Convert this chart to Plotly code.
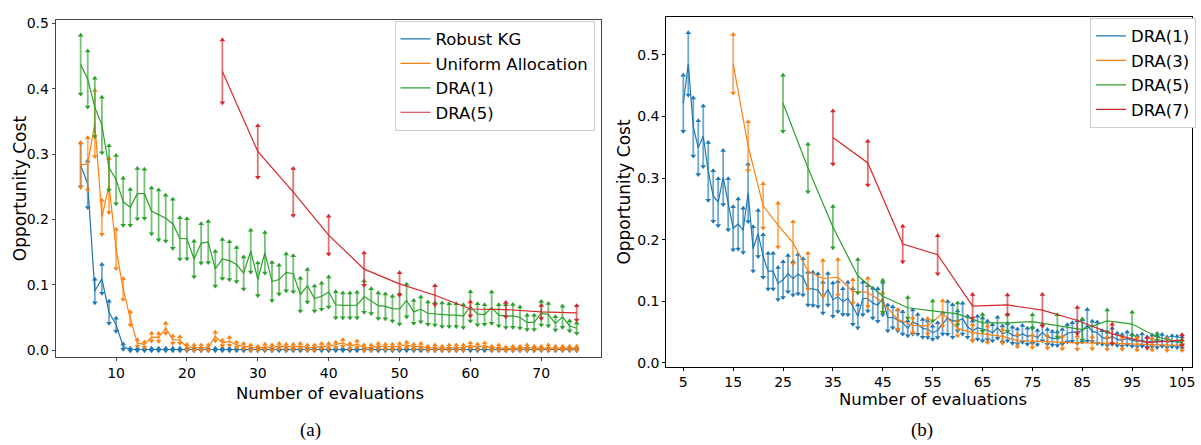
import plotly.graph_objects as go

# ---------------- data: panel (a) ----------------
A_X = list(range(5, 76))
A_DRA5_X = [25, 30, 35, 40, 45, 50, 55, 60, 65, 70, 75]

KG_MEAN = [0.2835, 0.254, 0.0905, 0.109, 0.058, 0.039, 0.0055,
           0.001, 0.001, 0.001, 0.001, 0.001, 0.001, 0.001, 0.001, 0.001, 0.001,
           0.001, 0.001, 0.001, 0.001, 0.001, 0.001, 0.001, 0.001, 0.001, 0.001,
           0.001, 0.001, 0.001, 0.001, 0.001, 0.001, 0.001, 0.001, 0.001, 0.001,
           0.001, 0.001, 0.001, 0.001, 0.001, 0.001, 0.001, 0.001, 0.001, 0.001,
           0.001, 0.001, 0.001, 0.001, 0.001, 0.001, 0.001, 0.001, 0.001, 0.001,
           0.001, 0.001, 0.001, 0.001, 0.001, 0.001, 0.001, 0.001, 0.001, 0.001,
           0.001, 0.001, 0.001, 0.001]
KG_ERR = [0.0335, 0.0355, 0.018, 0.022, 0.017, 0.01, 0.004,
          0.002, 0.002, 0.002, 0.002, 0.002, 0.002, 0.002, 0.002, 0.002, 0.002,
          0.002, 0.002, 0.002, 0.002, 0.002, 0.002, 0.002, 0.002, 0.002, 0.002,
          0.002, 0.002, 0.002, 0.002, 0.002, 0.002, 0.002, 0.002, 0.002, 0.002,
          0.002, 0.002, 0.002, 0.002, 0.002, 0.002, 0.002, 0.002, 0.002, 0.002,
          0.002, 0.002, 0.002, 0.002, 0.002, 0.002, 0.002, 0.002, 0.002, 0.002,
          0.002, 0.002, 0.002, 0.002, 0.002, 0.002, 0.002, 0.002, 0.002, 0.002,
          0.002, 0.002, 0.002, 0.002]

UNI_MEAN = [0.2835, 0.285, 0.347, 0.2035, 0.252, 0.155, 0.0935, 0.0485, 0.011, 0.0085,
            0.02, 0.0195, 0.0335, 0.016, 0.0155, 0.0045, 0.004, 0.004, 0.004, 0.021,
            0.011, 0.0135, 0.008, 0.006, 0.004, 0.003, 0.005, 0.004, 0.006, 0.005,
            0.005, 0.006, 0.004, 0.004, 0.006, 0.006, 0.008, 0.011, 0.006, 0.009,
            0.004, 0.004, 0.006, 0.005, 0.005, 0.006, 0.008, 0.005, 0.006, 0.003,
            0.004, 0.003, 0.004, 0.004, 0.004, 0.007, 0.005, 0.007, 0.003, 0.004,
            0.002, 0.003, 0.003, 0.004, 0.003, 0.003, 0.004, 0.003, 0.003, 0.003, 0.003]
UNI_ERR = [0.034, 0.04, 0.0505, 0.026, 0.0415, 0.03, 0.016, 0.01, 0.005, 0.004,
           0.006, 0.006, 0.0075, 0.0055, 0.005, 0.004, 0.004, 0.004, 0.004, 0.0065,
           0.004, 0.006, 0.004, 0.004, 0.004, 0.003, 0.004, 0.004, 0.004, 0.004,
           0.004, 0.004, 0.004, 0.004, 0.004, 0.004, 0.004, 0.005, 0.004, 0.005,
           0.004, 0.004, 0.004, 0.004, 0.004, 0.004, 0.004, 0.004, 0.004, 0.003,
           0.004, 0.003, 0.004, 0.004, 0.004, 0.004, 0.004, 0.004, 0.003, 0.004,
           0.003, 0.003, 0.003, 0.004, 0.003, 0.003, 0.004, 0.003, 0.003, 0.003, 0.003]

DRA1_MEAN = [0.437, 0.415, 0.3715, 0.3445, 0.279, 0.261, 0.227, 0.2185, 0.2395, 0.2395,
             0.213, 0.207, 0.202, 0.1935, 0.171, 0.1705, 0.1395, 0.1635, 0.1655, 0.1245,
             0.1395, 0.137, 0.131, 0.118, 0.1515, 0.1085, 0.149, 0.105, 0.108, 0.119,
             0.117, 0.085, 0.0985, 0.079, 0.0825, 0.089, 0.0695, 0.0685, 0.0685, 0.069,
             0.082, 0.075, 0.068, 0.067, 0.0635, 0.063, 0.076, 0.0585, 0.0625, 0.0565,
             0.0555, 0.054, 0.0535, 0.0535, 0.052, 0.067, 0.055, 0.0545, 0.065, 0.0535,
             0.052, 0.0525, 0.05, 0.0425, 0.0425, 0.0565, 0.0545, 0.041, 0.051, 0.037, 0.0335]
DRA1_ERR = [0.045, 0.043, 0.0445, 0.0425, 0.034, 0.037, 0.036, 0.0275, 0.0385, 0.0375,
            0.035, 0.038, 0.035, 0.0375, 0.0315, 0.0305, 0.027, 0.03, 0.0315, 0.0265,
            0.03, 0.029, 0.026, 0.0245, 0.032, 0.025, 0.031, 0.029, 0.022, 0.028,
            0.0275, 0.025, 0.025, 0.019, 0.02, 0.023, 0.02, 0.019, 0.019, 0.0195,
            0.024, 0.019, 0.0195, 0.019, 0.019, 0.023, 0.025, 0.0175, 0.019, 0.017,
            0.017, 0.018, 0.0175, 0.0175, 0.0175, 0.0225, 0.016, 0.015, 0.024, 0.016,
            0.0175, 0.0175, 0.016, 0.011, 0.011, 0.018, 0.017, 0.01, 0.016, 0.0075, 0.0075]

DRA5A_MEAN = [0.4265, 0.304, 0.242, 0.176, 0.124, 0.1015, 0.084, 0.063, 0.062, 0.0585, 0.057]
DRA5A_ERR = [0.048, 0.0395, 0.036, 0.029, 0.0245, 0.017, 0.0145, 0.0105, 0.011, 0.01, 0.011]

# ---------------- data: panel (b) ----------------
B1_X = list(range(5, 106))
B1_MEAN = [0.4215, 0.4855, 0.383, 0.3495, 0.368, 0.311, 0.271, 0.261, 0.301, 0.2575,
           0.2185, 0.2255, 0.215, 0.276, 0.185, 0.21, 0.1735, 0.149, 0.149, 0.129,
           0.135, 0.145, 0.137, 0.144, 0.1395, 0.1205, 0.12, 0.118, 0.106, 0.1195,
           0.1025, 0.1075, 0.0995, 0.1045, 0.0915, 0.0755, 0.1045, 0.1045, 0.097, 0.094,
           0.1045, 0.073, 0.074, 0.069, 0.065, 0.056, 0.0665, 0.0625, 0.056, 0.0545,
           0.049, 0.053, 0.064, 0.073, 0.068, 0.068, 0.0718, 0.0585, 0.052, 0.057,
           0.0545, 0.053, 0.049, 0.057, 0.047, 0.05, 0.045, 0.043, 0.047, 0.043,
           0.045, 0.041, 0.049, 0.042, 0.04, 0.039, 0.042, 0.048, 0.05, 0.05,
           0.052, 0.061, 0.051, 0.049, 0.041, 0.039, 0.043, 0.038, 0.0365, 0.0395,
           0.0365, 0.035, 0.037, 0.0335, 0.0355, 0.0345, 0.0365, 0.0335, 0.035, 0.034, 0.033]
B1_ERR = [0.0455, 0.0505, 0.047, 0.0435, 0.049, 0.047, 0.041, 0.038, 0.044, 0.0415,
          0.035, 0.0405, 0.036, 0.0465, 0.036, 0.0375, 0.0345, 0.029, 0.029, 0.026,
          0.029, 0.0295, 0.027, 0.032, 0.0295, 0.0265, 0.027, 0.0265, 0.025, 0.0255,
          0.027, 0.024, 0.021, 0.0265, 0.029, 0.0185, 0.0265, 0.0205, 0.024, 0.0265,
          0.0265, 0.021, 0.017, 0.017, 0.018, 0.012, 0.0195, 0.016, 0.0145, 0.0135,
          0.0105, 0.012, 0.017, 0.0265, 0.0265, 0.016, 0.025, 0.017, 0.016, 0.0185,
          0.0185, 0.015, 0.013, 0.017, 0.013, 0.014, 0.013, 0.012, 0.0135, 0.013,
          0.013, 0.0115, 0.013, 0.012, 0.011, 0.011, 0.012, 0.014, 0.015, 0.018,
          0.018, 0.0255, 0.0165, 0.0175, 0.011, 0.011, 0.013, 0.01, 0.0095, 0.0105,
          0.0095, 0.009, 0.01, 0.0085, 0.0095, 0.0095, 0.0095, 0.0085, 0.009, 0.009, 0.009]

B3_X = list(range(15, 106, 3))
B3_MEAN = [0.4855, 0.352, 0.255, 0.2235, 0.195, 0.149, 0.137, 0.139, 0.116, 0.1145,
           0.098, 0.0705, 0.061, 0.0595, 0.0805, 0.056, 0.049, 0.0465, 0.043, 0.036,
           0.035, 0.034, 0.033, 0.0325, 0.0325, 0.032, 0.0315, 0.031, 0.0305, 0.0295, 0.0285]
B3_ERR = [0.0475, 0.0395, 0.036, 0.0355, 0.034, 0.029, 0.029, 0.029, 0.019, 0.023,
          0.016, 0.016, 0.012, 0.0125, 0.0205, 0.012, 0.013, 0.0135, 0.011, 0.01,
          0.01, 0.01, 0.01, 0.0105, 0.0095, 0.01, 0.0095, 0.01, 0.0095, 0.0095, 0.0085]

B5_X = list(range(25, 106, 5))
B5_MEAN = [0.4215, 0.3165, 0.2205, 0.141, 0.108, 0.0895, 0.0845, 0.0795, 0.065,
           0.065, 0.067, 0.06, 0.054, 0.068, 0.063, 0.042, 0.033]
B5_ERR = [0.0455, 0.0385, 0.0335, 0.027, 0.026, 0.0165, 0.016, 0.0175, 0.0135,
          0.0135, 0.011, 0.018, 0.017, 0.018, 0.019, 0.0055, 0.0035]

B7_X = list(range(35, 106, 7))
B7_MEAN = [0.366, 0.3245, 0.193, 0.1755, 0.092, 0.094, 0.0855, 0.0688, 0.047, 0.0328, 0.0368]
B7_ERR = [0.043, 0.0355, 0.029, 0.031, 0.019, 0.016, 0.0255, 0.021, 0.0155, 0.0085, 0.0088]

A_XTICKS = [10, 20, 30, 40, 50, 60, 70]
B_XTICKS = [5, 15, 25, 35, 45, 55, 65, 75, 85, 95, 105]
YTICKS_A = [0.0, 0.1, 0.2, 0.3, 0.4, 0.5]
YTICKS_B = [0.0, 0.1, 0.2, 0.3, 0.4, 0.5]

BLUE, ORANGE, GREEN, RED = "#1f77b4", "#ff7f0e", "#2ca02c", "#d62728"


def rgba(hexc, a):
    h = hexc.lstrip("#")
    return "rgba(%d,%d,%d,%.2f)" % (int(h[0:2], 16), int(h[2:4], 16), int(h[4:6], 16), a)


fig = go.Figure()


def add_series(x, mean, err, color, name, xa, ya, legend):
    fig.add_trace(go.Scatter(
        x=x, y=mean, mode="lines", name=name,
        line=dict(color=color, width=1.2),
        error_y=dict(type="data", array=err, symmetric=True,
                     color=rgba(color, 0.65), thickness=1.8, width=0),
        xaxis=xa, yaxis=ya, legend=legend, hoverinfo="skip"))
    hi = [m + e for m, e in zip(mean, err)]
    lo = [m - e for m, e in zip(mean, err)]
    fig.add_trace(go.Scatter(
        x=list(x) + list(x), y=hi + lo, mode="markers",
        marker=dict(color=color, size=5,
                    symbol=["triangle-up"] * len(x) + ["triangle-down"] * len(x)),
        xaxis=xa, yaxis=ya, showlegend=False, hoverinfo="skip"))


add_series(A_X, KG_MEAN, KG_ERR, BLUE, "Robust KG", "x", "y", "legend")
add_series(A_X, UNI_MEAN, UNI_ERR, ORANGE, "Uniform Allocation", "x", "y", "legend")
add_series(A_X, DRA1_MEAN, DRA1_ERR, GREEN, "DRA(1)", "x", "y", "legend")
add_series(A_DRA5_X, DRA5A_MEAN, DRA5A_ERR, RED, "DRA(5)", "x", "y", "legend")

add_series(B1_X, B1_MEAN, B1_ERR, BLUE, "DRA(1)", "x2", "y2", "legend2")
add_series(B3_X, B3_MEAN, B3_ERR, ORANGE, "DRA(3)", "x2", "y2", "legend2")
add_series(B5_X, B5_MEAN, B5_ERR, GREEN, "DRA(5)", "x2", "y2", "legend2")
add_series(B7_X, B7_MEAN, B7_ERR, RED, "DRA(7)", "x2", "y2", "legend2")

W, H = 1201, 445
FONT = "DejaVu Sans"


def px_x(p):
    return p / W


def px_y(p):
    return 1 - p / H


axis_common = dict(showline=True, mirror=True, ticks="outside", ticklen=3,
                   showgrid=False, zeroline=False,
                   tickfont=dict(family=FONT, size=14, color="black"))

fig.update_layout(
    width=W, height=H,
    margin=dict(l=0, r=0, t=0, b=0),
    paper_bgcolor="white", plot_bgcolor="white",
    font=dict(family=FONT, color="black"),
    xaxis=dict(domain=[px_x(56), px_x(603)], range=[1.5, 78.5],
               tickvals=A_XTICKS, linecolor="#444", linewidth=1.3,
               tickcolor="#444", anchor="y", **axis_common),
    yaxis=dict(domain=[px_y(359), px_y(15.5)], range=[-0.0101, 0.505],
               tickvals=YTICKS_A, tickformat=".1f", linecolor="#444",
               linewidth=1.3, tickcolor="#444", anchor="x", **axis_common),
    xaxis2=dict(domain=[px_x(668), px_x(1195)], range=[1.6, 107.0],
                tickvals=B_XTICKS, linecolor="black", linewidth=1,
                tickcolor="black", anchor="y2", **axis_common),
    yaxis2=dict(domain=[px_y(369), px_y(12)], range=[-0.006, 0.562],
                tickvals=YTICKS_B, tickformat=".1f", linecolor="black",
                linewidth=1, tickcolor="black", anchor="x2", **axis_common),
    legend=dict(x=px_x(596), y=px_y(16), xanchor="right", yanchor="top",
                bgcolor="white", bordercolor="#cccccc", borderwidth=1,
                font=dict(family=FONT, size=16.5, color="black")),
    legend2=dict(x=px_x(1199), y=px_y(13), xanchor="right", yanchor="top",
                 bgcolor="white", bordercolor="#cccccc", borderwidth=1,
                 font=dict(family=FONT, size=16.5, color="black")),
    showlegend=True,
)

ann = [
    dict(text="Opportunity Cost", x=px_x(20), y=px_y(187), textangle=-90, font_size=17),
    dict(text="Opportunity Cost", x=px_x(626), y=px_y(190), textangle=-90, font_size=17),
    dict(text="Number of evaluations", x=px_x(331), y=px_y(397), font_size=16.5),
    dict(text="Number of evaluations", x=px_x(935), y=px_y(403), font_size=16.5),
    dict(text="(a)", x=px_x(311), y=px_y(434), font=dict(family="Liberation Serif", size=19, color="black")),
    dict(text="(b)", x=px_x(924), y=px_y(434), font=dict(family="Liberation Serif", size=19, color="black")),
]
for a in ann:
    a.update(xref="paper", yref="paper", showarrow=False, xanchor="center", yanchor="middle")
    if "font" not in a:
        a["font"] = dict(family=FONT, size=a.pop("font_size"), color="black")
    fig.add_annotation(**a)

fig.write_html("out.html", config={"displayModeBar": False},
               post_script="document.body.style.margin='0';document.body.style.overflow='hidden';")
